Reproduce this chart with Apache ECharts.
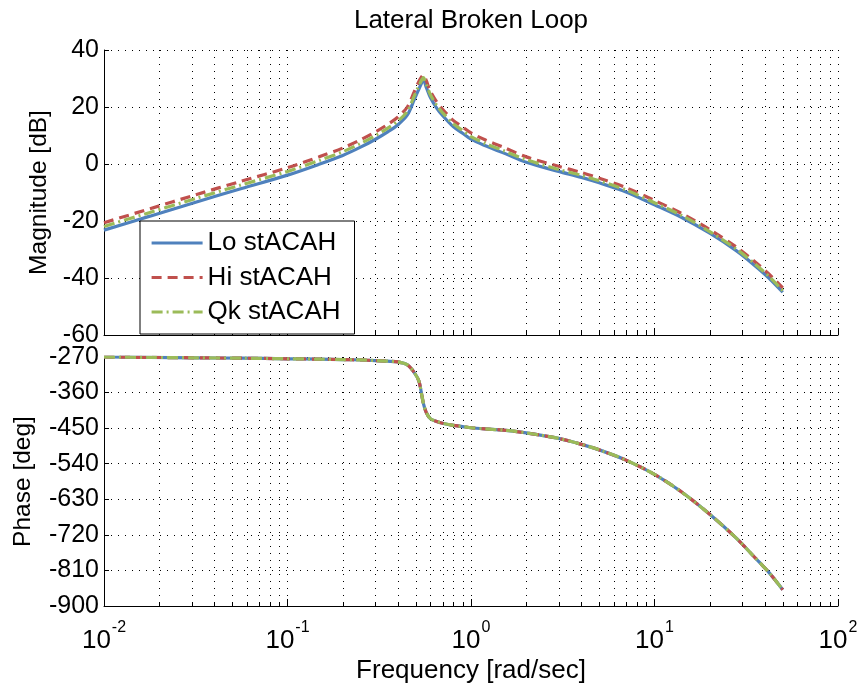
<!DOCTYPE html>
<html>
<head>
<meta charset="utf-8">
<script src="https://cdn.jsdelivr.net/npm/echarts@6/dist/echarts.min.js"></script>
<style>
  html, body { margin: 0; padding: 0; background: #fff; }
  #chart { width: 861px; height: 685px; }
</style>
</head>
<body>
<div id="chart"></div>
<script>
// Frequency samples [rad/sec]
const freq = [0.01, 0.0178, 0.0316, 0.0562, 0.1, 0.15, 0.2, 0.25, 0.3, 0.35, 0.4, 0.45, 0.49, 0.52, 0.54, 0.55,
  0.57, 0.6, 0.65, 0.7, 0.8, 0.9, 1.0, 1.2, 1.5, 2, 3, 4, 5, 7, 10, 14, 20, 28, 35, 42, 50];

// Magnitude [dB]
const magLo = [-23.2, -18.3, -13.4, -8.6, -3.9, 0.0, 3.0, 5.9, 8.6, 11.2, 13.8, 17.2, 22.5, 26.3, 28.7, 29.7,
  27.0, 23.4, 19.6, 17.0, 13.1, 10.8, 8.7, 6.4, 3.9, 0.6, -2.6, -4.7, -6.6, -9.8, -14.3, -18.7, -24.3, -30.5, -35.5, -40.0, -45.0];
const magHi = [-20.6, -15.7, -10.8, -6.0, -1.3, 2.6, 5.6, 8.5, 11.2, 13.8, 16.5, 20.0, 25.3, 29.0, 30.7, 31.3,
  29.3, 25.6, 21.8, 19.2, 15.3, 13.0, 10.9, 8.4, 5.9, 2.5, -0.8, -3.0, -5.0, -8.3, -12.8, -17.3, -23.0, -29.2, -34.1, -38.6, -43.5];
const magQk = [-21.9, -17.0, -12.1, -7.3, -2.6, 1.3, 4.3, 7.2, 9.9, 12.5, 15.1, 18.5, 23.8, 27.5, 29.6, 30.3,
  28.0, 24.4, 20.6, 18.0, 14.1, 11.8, 9.6, 7.2, 4.7, 1.5, -1.9, -4.0, -5.9, -9.1, -13.6, -18.0, -23.7, -29.9, -34.9, -39.4, -44.4];

// Phase [deg]
const phaseLo = [-270, -271, -272, -273, -274.5, -275.5, -276.5, -277.5, -279, -280.5, -282.5, -290, -309, -331, -368, -387,
  -410, -426, -433, -437.5, -443, -446, -449, -452, -455, -462, -476, -491, -505, -531, -567, -611, -668, -729, -776, -815, -859];
const phaseHi = [-270, -271, -272, -273, -274.5, -275.5, -276.5, -277.5, -279, -280.5, -282.5, -290, -309, -331, -368, -387,
  -410, -426, -433, -437.5, -443, -446, -449, -452, -455, -462, -476, -491, -505, -531, -567, -611, -668, -729, -776, -815, -859];
const phaseQk = [-270, -271, -272, -273, -274.5, -275.5, -276.5, -277.5, -279, -280.5, -282.5, -290, -309, -331, -368, -387,
  -410, -426, -433, -437.5, -443, -446, -449, -452, -455, -462, -476, -491, -505, -531, -567, -611, -668, -729, -776, -815, -859];

const seriesNames = ['Lo stACAH', 'Hi stACAH', 'Qk stACAH'];
const seriesColors = ['#4F81BD', '#C0504D', '#9BBB59'];
const seriesDash = ['solid', [10, 6], [11, 4, 2, 4]];

// Minor decade positions (2..9 x 10^k) for grid lines and ticks
const minorFreqs = [];
for (let d = -2; d <= 1; d++) {
  for (let k = 2; k <= 9; k++) minorFreqs.push(k * Math.pow(10, d));
}

const FONT = 'Liberation Sans';
const gridDot = { color: '#000', width: 1, type: [1, 6] };

function pairs(xs, ys) { return xs.map((x, i) => [x, ys[i]]); }

function minorGrid(params, api) {
  const cs = params.coordSys;
  const x = Math.round(api.coord([api.value(0), api.value(1)])[0]) + 0.5;
  const yb = cs.y + cs.height;
  return {
    type: 'group',
    children: [
      { type: 'line', shape: { x1: x, y1: cs.y, x2: x, y2: yb },
        style: { stroke: '#000', lineWidth: 1, lineDash: [1, 6] } },
      { type: 'line', shape: { x1: x, y1: yb, x2: x, y2: yb - 4 },
        style: { stroke: '#000', lineWidth: 1 } }
    ]
  };
}

function xAxisBase(gridIndex, showLabels) {
  return {
    type: 'log', logBase: 10, gridIndex: gridIndex, min: 0.01, max: 100,
    axisLine: { onZero: false, lineStyle: { color: '#000', width: 1 } },
    axisTick: { inside: true, length: 7, lineStyle: { color: '#000' } },
    splitLine: { show: true, lineStyle: gridDot },
    axisLabel: {
      show: showLabels, margin: 14, color: '#000',
      formatter: v => '{b|10}{e|' + Math.round(Math.log10(v)) + '}',
      rich: {
        b: { fontSize: 26, fontFamily: FONT, color: '#000', lineHeight: 34, verticalAlign: 'bottom' },
        e: { fontSize: 16, fontFamily: FONT, color: '#000', lineHeight: 34, verticalAlign: 'top', padding: [0, 0, 0, 1] }
      }
    }
  };
}

function yAxisBase(gridIndex, min, max, interval, name, gap) {
  return {
    type: 'value', gridIndex: gridIndex, min: min, max: max, interval: interval,
    name: name, nameLocation: 'middle', nameRotate: 90, nameGap: gap,
    nameTextStyle: { fontSize: 24.5, fontFamily: FONT, color: '#000' },
    axisLine: { show: true, lineStyle: { color: '#000', width: 1 } },
    axisTick: { show: true, inside: true, length: 5, lineStyle: { color: '#000' } },
    splitLine: { show: true, lineStyle: gridDot },
    axisLabel: { fontSize: 25, fontFamily: FONT, color: '#000', margin: 5 }
  };
}

const series = [];
// minor vertical grid lines for both panels
series.push({ type: 'custom', xAxisIndex: 0, yAxisIndex: 0, silent: true, z: 1,
  renderItem: minorGrid, data: minorFreqs.map(f => [f, 0]) });
series.push({ type: 'custom', xAxisIndex: 1, yAxisIndex: 1, silent: true, z: 1,
  renderItem: minorGrid, data: minorFreqs.map(f => [f, -450]) });

const mags = [magLo, magHi, magQk];
const phases = [phaseLo, phaseHi, phaseQk];
for (let s = 0; s < 3; s++) {
  const common = {
    type: 'line', name: seriesNames[s], symbol: 'none', smooth: 0.3,
    animation: false, z: 3 + s,
    lineStyle: { color: seriesColors[s], width: 3.2, type: seriesDash[s] },
    itemStyle: { color: seriesColors[s] }
  };
  series.push(Object.assign({}, common, { xAxisIndex: 0, yAxisIndex: 0, data: pairs(freq, mags[s]) }));
  series.push(Object.assign({}, common, { xAxisIndex: 1, yAxisIndex: 1, data: pairs(freq, phases[s]) }));
}

const chart = echarts.init(document.getElementById('chart'), null, { renderer: 'canvas' });
chart.setOption({
  animation: false,
  backgroundColor: '#fff',
  textStyle: { fontFamily: FONT },
  grid: [
    { left: 104, right: 23, top: 50, height: 285 },
    { left: 104, right: 23, top: 357, height: 253 }
  ],
  xAxis: [
    xAxisBase(0, false),
    Object.assign(xAxisBase(1, true), {
      name: 'Frequency [rad/sec]', nameLocation: 'middle', nameGap: 52,
      nameTextStyle: { fontSize: 26, fontFamily: FONT, color: '#000' }
    })
  ],
  yAxis: [
    yAxisBase(0, -60, 40, 20, 'Magnitude [dB]', 52),
    yAxisBase(1, -900, -270, 90, 'Phase [deg]', 68)
  ],
  legend: {
    data: seriesNames, orient: 'vertical', left: 140, top: 221,
    itemWidth: 51, itemHeight: 14, itemGap: 8.5,
    padding: [9, 14, 9, 10],
    backgroundColor: '#fff', borderColor: '#000', borderWidth: 1, borderRadius: 0,
    itemStyle: { color: 'rgba(0,0,0,0)', borderWidth: 0, opacity: 0 },
    lineStyle: { width: 3.2 },
    textStyle: { fontSize: 26, fontFamily: FONT, color: '#000' },
    z: 10, selectedMode: false
  },
  graphic: [{
    type: 'text', x: 471, y: 21, z: 10,
    style: { text: 'Lateral Broken Loop', fontSize: 26, fontFamily: FONT, fill: '#000',
      textAlign: 'center', textVerticalAlign: 'middle' }
  }],
  series: series
});
</script>
</body>
</html>
